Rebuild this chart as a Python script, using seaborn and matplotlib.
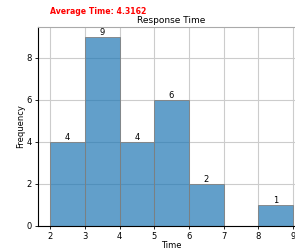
import numpy as np
import matplotlib
matplotlib.use("Agg")
import matplotlib.pyplot as plt
import seaborn as sns

# histogram bins (1 second wide) and counts
bin_edges = [2, 3, 4, 5, 6, 7, 8, 9]
bin_centers = [2.5, 3.5, 4.5, 5.5, 6.5, 7.5, 8.5]
counts = [4, 9, 4, 6, 2, 0, 1]
avg_time = 4.3162

fig = plt.figure(figsize=(2.95, 2.48), dpi=100)
ax = fig.add_axes([0.129, 0.089, 0.905, 0.802])

sns.histplot(x=bin_centers, weights=counts, bins=bin_edges, ax=ax,
             color="#1f77b4", alpha=0.7, edgecolor="gray", linewidth=0.6)

for c in ax.containers:
    labels = [str(int(v)) if v > 0 else "" for v in c.datavalues]
    ax.bar_label(c, labels=labels, fontsize=6, padding=0)

ax.set_xlim(1.65, 9.35)
ax.set_ylim(0, 9.45)
ax.set_xticks(bin_edges)
ax.set_yticks([0, 2, 4, 6, 8])
ax.grid(True, color="#cccccc", linewidth=0.8)
ax.set_axisbelow(True)
ax.tick_params(labelsize=6, length=2.5, width=0.6, pad=2)
for s in ax.spines.values():
    s.set_linewidth(0.8)
ax.spines["top"].set_color("#aaaaaa")
ax.spines["right"].set_color("#aaaaaa")

ax.set_title("Response Time", fontsize=6.5, pad=3)
ax.set_xlabel("Time", fontsize=6, labelpad=0)
ax.set_ylabel("Frequency", fontsize=6, labelpad=1)

fig.text(0.17, 0.955, f"Average Time: {avg_time}", color="red",
         fontsize=5.6, fontweight="bold", va="center")

fig.savefig("out.png", dpi=100)
